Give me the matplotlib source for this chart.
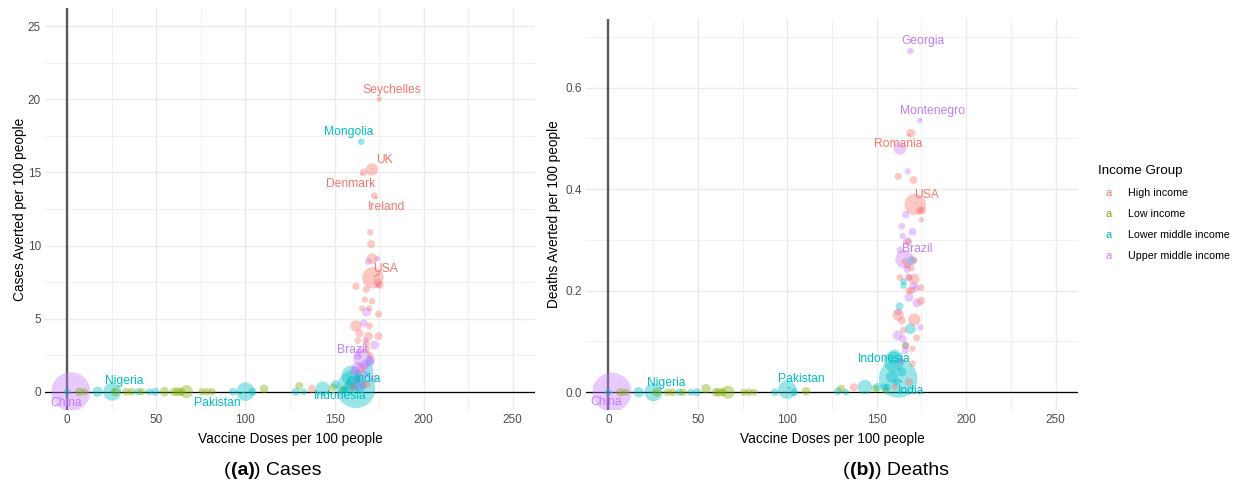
import numpy as np
import matplotlib
matplotlib.use("Agg")
import matplotlib.pyplot as plt
from matplotlib.offsetbox import TextArea, HPacker, AnchoredOffsetbox

plt.rcParams["font.family"] = ["Liberation Sans", "DejaVu Sans"]

# income groups and their ggplot hue colours
group_names = ["High income", "Low income", "Lower middle income", "Upper middle income"]
group_codes = ["H", "L", "LM", "UM"]
group_colors = ["#F8766D", "#7CAE00", "#00BFC4", "#C77CFF"]

# one entry per country (same countries in both panels)
country = ["China", "", "", "", "", "Nigeria", "", "", "", "", "", "", "", "", "", "", "", "",
           "", "", "", "", "Pakistan", "", "", "", "", "", "", "", "", "", "", "",
           "India", "Indonesia", "Mongolia", "", "", "", "", "", "", "", "", "", "",
           "Georgia", "Montenegro", "", "Brazil", "", "", "", "", "", "", "", "", "", "", "",
           "", "", "", "", "", "", "", "",
           "Seychelles", "UK", "Denmark", "Ireland", "USA", "Romania", "", "", "", "", "", "",
           "", "", "", "", "", "", "", "", "", "", "", "", "", "", "", "", ""]
group = ["UM", "LM", "L", "L", "LM", "LM", "L", "L", "L", "LM", "L", "LM", "LM", "L", "L", "L", "L", "L",
         "L", "L", "L", "LM", "LM", "LM", "L", "LM", "L", "LM", "H", "LM", "L", "LM", "LM", "L",
         "LM", "LM", "LM", "LM", "LM", "LM", "LM", "LM", "LM", "LM", "LM", "LM", "LM",
         "UM", "UM", "UM", "UM", "UM", "UM", "UM", "UM", "UM", "UM", "UM", "UM", "UM", "UM", "UM",
         "UM", "UM", "UM", "UM", "UM", "UM", "UM", "UM",
         "H", "H", "H", "H", "H", "H", "H", "H", "H", "H", "H", "H",
         "H", "H", "H", "H", "H", "H", "H", "H", "H", "H", "H", "H", "H", "H", "H", "H", "H"]
doses = [2, 0, 6.8, 9.7, 16.9, 25.2, 27, 33, 36, 39.7, 41.7, 46, 49.4, 54.6, 60, 62, 64, 66.9,
         75.6, 78.5, 81.4, 93, 100, 104, 110.5, 128.3, 130.2, 132.8, 137.2, 143.4, 149.2, 150.5, 154.4, 155,
         162, 159.5, 165, 169.5, 168.8, 162.7, 165, 166, 158.5, 164, 161, 156, 160,
         168.8, 174, 163, 165.5, 168, 172.5, 166.3, 167.3, 164, 170, 164.5, 167, 163, 167, 168,
         172, 161.7, 164.7, 166, 174.4, 162, 163.5, 170.5,
         175, 171, 166.3, 172.3, 171.5, 169, 170, 170.5, 171, 174, 175.5, 162,
         167.8, 167, 171, 165.4, 169.5, 174.7, 162, 169.5, 164, 174.7, 163, 168, 168, 170, 165, 168, 160]
pop = [1410, 3, 16, 5, 35, 206, 20, 8, 10, 6, 8, 5, 12, 25, 15, 20, 12, 80,
       6, 8, 5, 10, 220, 10, 15, 12, 10, 3, 12, 110, 10, 15, 8, 5,
       1380, 273, 3.3, 25, 40, 10, 3, 6, 60, 20, 8, 5, 100,
       3.7, 0.6, 70, 212, 20, 20, 8, 2, 3, 10, 2, 15, 5, 6, 4,
       5, 30, 8, 6, 2, 6, 4, 10,
       0.1, 67, 5.8, 5, 331, 19, 2, 10, 40, 10, 8, 6,
       5, 2, 3, 1, 2, 4, 50, 6, 10, 12, 4, 6, 5, 3, 4, 10, 2]
cases = [0, 0, 0, 0, 0, 0, 0, 0, 0, 0, 0, 0, 0, 0, 0, 0, 0, 0,
         0, 0, 0, 0, 0, 0, 0.2, 0, 0.4, 0, 0.2, 0.2, 0.3, 0.5, 0.1, 0.2,
         0.2, 1.1, 17.1, 2.1, 1.5, 0.8, 0.6, 0.4, 0.3, 0.2, 0.4, 0.1, 0.6,
         8.9, 9.1, 1.6, 2.3, 5.45, 3.2, 4.7, 3.5, 2.8, 2.0, 1.8, 1.9, 2.4, 1.7, 1.2,
         0.9, 1.4, 1.0, 0.5, 7.3, 0.6, 0.3, 2.2,
         20.0, 15.2, 15.0, 13.4, 7.8, 3.8, 10.9, 10.1, 9.1, 7.5, 7.3, 7.2,
         7.0, 6.3, 6.2, 5.7, 5.7, 5.3, 4.5, 4.5, 4.0, 3.8, 3.5, 3.3, 2.9, 2.5, 1.5, 0.5, 0.3]
deaths = [0, 0, 0, 0, 0, 0, 0, 0, 0, 0, 0, 0, 0, 0.007, 0, 0, 0, 0,
          0, 0, 0, 0, 0.005, 0, 0.002, 0.002, 0.007, 0, 0.01, 0.01, 0.007, 0.01, 0.01, 0.003,
          0.027, 0.06, 0.21, 0.259, 0.125, 0.169, 0.218, 0.092, 0.03, 0.04, 0.02, 0.01, 0.07,
          0.672, 0.535, 0.48, 0.262, 0.187, 0.176, 0.35, 0.435, 0.327, 0.316, 0.308, 0.297, 0.28, 0.242, 0.226,
          0.205, 0.112, 0.105, 0.082, 0.128, 0.158, 0.06, 0.21,
          0.34, 0.143, 0.092, 0.107, 0.37, 0.51, 0.086, 0.418, 0.223, 0.358, 0.358, 0.425,
          0.296, 0.249, 0.26, 0.257, 0.244, 0.206, 0.152, 0.2, 0.141, 0.18, 0.226, 0.226, 0.2, 0.056, 0.122, 0.02, 0.01]

# which countries get a label in each panel, with label offset (points)
labels_cases = {"Seychelles": (9, 7), "Mongolia": (-9, 7), "UK": (9, 7), "Denmark": (-9, -8),
                "Ireland": (9, -8), "USA": (9, 6), "Brazil": (-7, 6), "India": (9, 7),
                "Indonesia": (-8, -15), "Nigeria": (9, 8), "Pakistan": (-20, -8), "China": (-3, -8)}
labels_deaths = {"Georgia": (9, 7), "Montenegro": (9, 7), "Romania": (-9, -8), "USA": (8, 7),
                 "Brazil": (9, 7), "Indonesia": (-7, 2), "India": (9, -9), "Pakistan": (10, 8),
                 "Nigeria": (9, 7), "China": (-4, -7)}

col = {g: c for g, c in zip(group_codes, group_colors)}
colors = [col[g] for g in group]
doses = np.array(doses)
pop = np.array(pop)
diam_px = 5 + 34 * np.sqrt(pop / pop.max())
sizes = (diam_px * 0.72) ** 2

fig = plt.figure(figsize=(12.39, 4.86), dpi=100)
ax1 = fig.add_axes([45 / 1239, 76 / 486, 490 / 1239, 402 / 486])
ax2 = fig.add_axes([586 / 1239, 76 / 486, 492 / 1239, 391 / 486])


def draw_panel(ax, yvals, ylim, yticks, yminor, ylabel, labels, fmt, ypad):
    ax.set_facecolor("white")
    ax.set_xlim(-12.5, 262.5)
    ax.set_ylim(*ylim)
    for x in range(0, 251, 50):
        ax.axvline(x, color="#EBEBEB", lw=1.0, zorder=0)
    for x in range(25, 251, 50):
        ax.axvline(x, color="#EBEBEB", lw=0.5, zorder=0)
    for y in yticks:
        ax.axhline(y, color="#EBEBEB", lw=1.0, zorder=0)
    for y in yminor:
        ax.axhline(y, color="#EBEBEB", lw=0.5, zorder=0)
    ax.axvline(0, color="#5A5A5A", lw=1.7, zorder=1)
    ax.axhline(0, color="black", lw=0.9, zorder=1)
    ax.scatter(doses, yvals, s=sizes, c=colors, alpha=0.4, linewidths=0, zorder=2)
    for name, (dx, dy) in labels.items():
        i = country.index(name)
        c = col[group[i]]
        ax.annotate(name, (doses[i], yvals[i]), xytext=(dx, dy), textcoords="offset points",
                    ha="center", va="center", fontsize=8.7, color=c, zorder=3,
                    arrowprops=dict(arrowstyle="-", color=c, lw=0.7, shrinkA=5, shrinkB=1))
    ax.set_xticks(range(0, 251, 50))
    ax.set_yticks(yticks)
    ax.set_yticklabels([fmt(v) for v in yticks])
    ax.tick_params(length=0, labelsize=8.5, labelcolor="#4D4D4D", pad=3)
    for s in ax.spines.values():
        s.set_visible(False)
    ax.set_xlabel("Vaccine Doses per 100 people", fontsize=9.8, labelpad=4)
    ax.set_ylabel(ylabel, fontsize=9.8, labelpad=ypad)


draw_panel(ax1, np.array(cases), (-1.25, 26.25), [0, 5, 10, 15, 20, 25],
           [2.5, 7.5, 12.5, 17.5, 22.5], "Cases Averted per 100 people", labels_cases,
           lambda v: f"{v:g}", 0.5)
draw_panel(ax2, np.array(deaths), (-0.035, 0.735), [0.0, 0.2, 0.4, 0.6],
           [0.1, 0.3, 0.5, 0.7], "Deaths Averted per 100 people", labels_deaths,
           lambda v: f"{v:.1f}", 3)

# legend with letter keys, like ggplot text legend
fig.text(1098 / 1239, 1 - 171 / 486, "Income Group", fontsize=9.6, va="center", ha="left")
for k, (name, c) in enumerate(zip(group_names, group_colors)):
    yy = 1 - (193 + 21 * k) / 486
    fig.text(1109 / 1239, yy, "a", color=c, fontsize=8, va="center", ha="center")
    fig.text(1128 / 1239, yy, name, fontsize=7.7, va="center", ha="left")


# sub-captions with bold letter
def caption(x, letter, word):
    box = HPacker(children=[TextArea("(", textprops=dict(fontsize=14)),
                            TextArea(f"({letter})", textprops=dict(fontsize=14, fontweight="bold")),
                            TextArea(") " + word, textprops=dict(fontsize=14))],
                  align="baseline", pad=0, sep=0)
    ab = AnchoredOffsetbox(loc="center", child=box, bbox_to_anchor=(x, 1 - 470 / 486),
                           bbox_transform=fig.transFigure, frameon=False, pad=0, borderpad=0)
    fig.add_artist(ab)


caption(273 / 1239, "a", "Cases")
caption(896 / 1239, "b", "Deaths")

fig.savefig("out.png", dpi=100, facecolor="white")
